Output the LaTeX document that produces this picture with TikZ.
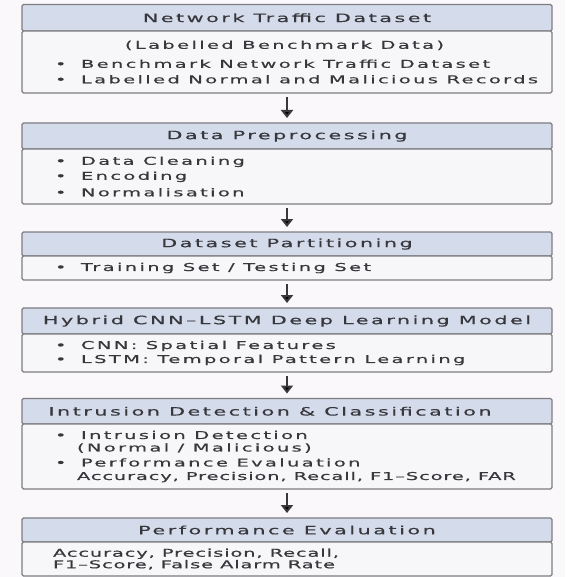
\documentclass[tikz,border=0pt]{standalone}
\usepackage{fontspec}
\setmainfont{DejaVu Sans}[FakeStretch=1.8,LetterSpace=22,FakeBold=0.5]
\usepackage{tikz}
\usetikzlibrary{positioning, arrows.meta}

\definecolor{pagebg}{RGB}{250,248,250}
\definecolor{headblue}{RGB}{212,220,235}
\definecolor{bodygray}{RGB}{247,247,249}
\definecolor{framegray}{RGB}{125,125,130}
\definecolor{inkgray}{RGB}{55,55,60}

\newcommand{\itm}[1]{\hspace*{28pt}\makebox[26pt][l]{•}#1}
\newcommand{\cont}[1]{\hspace*{50pt}#1}
\newcommand{\tightrow}[1]{{\addfontfeature{LetterSpace=8}#1}}

\tikzset{
	head/.style={draw=framegray, fill=headblue, line width=1.1pt, rounded corners=1.5pt,
		minimum width=530pt, minimum height=#1, inner sep=0pt, outer sep=0pt,
		text=inkgray, font=\fontsize{11.5}{12.5}\selectfont},
	body/.style={draw=framegray, fill=bodygray, line width=1.1pt, rounded corners=1.5pt,
		text width=520pt, inner xsep=5pt, inner ysep=0pt, minimum height=#1, outer sep=0pt,
		align=flush left, text=inkgray, font=\fontsize{10.8}{12.5}\selectfont},
	flow/.style={-{Triangle[length=8pt,width=12pt]}, line width=2pt, draw=inkgray,
		shorten <=4pt, shorten >=5pt},
}

\begin{document}
\begin{tikzpicture}
	\fill[pagebg] (0,0) rectangle (565pt,-577pt);
	\useasboundingbox (0,0) rectangle (565pt,-577pt);

	\node[head=26.5pt] (data) at (287pt,-17.75pt) {Network Traffic Dataset};
	\node[body=62pt, below=0pt of data] (databody)
		{\makebox[515pt]{(Labelled Benchmark Data)}\\[6.5pt]
		 \itm{Benchmark Network Traffic Dataset}\\[3pt]
		 \itm{Labelled Normal and Malicious Records}};

	\node[head=26pt, below=30pt of databody] (prep) {Data Preprocessing};
	\node[body=55pt, below=0pt of prep] (prepbody)
		{\itm{Data Cleaning}\\[2.5pt]
		 \itm{Encoding}\\[4pt]
		 \itm{Normalisation}};

	\node[head=24pt, below=28pt of prepbody] (part) {Dataset Partitioning};
	\node[body=24pt, below=0pt of part] (partbody)
		{\itm{Training Set / Testing Set}};

	\node[head=26pt, below=28pt of partbody] (model) {Hybrid CNN--LSTM Deep Learning Model};
	\node[body=38pt, below=0pt of model] (modelbody)
		{\itm{CNN: Spatial Features}\\[1.5pt]
		 \itm{LSTM: Temporal Pattern Learning}};

	\node[head=25.5pt, below=26.5pt of modelbody] (detect) {Intrusion Detection \& Classification\hspace*{34pt}};
	\node[body=65pt, below=0pt of detect] (detectbody)
		{\itm{Intrusion Detection}\\
		 \cont{(Normal / Malicious)}\\[2.5pt]
		 \itm{Performance Evaluation}\\[1pt]
		 \cont{\tightrow{Accuracy, Precision, Recall, F1--Score, FAR}}};

	\node[head=24pt, below=29pt of detectbody] (eval) {Performance Evaluation};
	\node[body=34pt, below=0pt of eval] (evalbody)
		{\hspace*{26pt}\tightrow{Accuracy, Precision, Recall,}\\[-1pt]
		 \hspace*{26pt}\tightrow{F1--Score, False Alarm Rate}};

	\draw[flow]
	(databody) edge (prep)
	(prepbody) edge (part)
	(partbody) edge (model)
	(modelbody) edge (detect)
	(detectbody) edge (eval);
\end{tikzpicture}
\end{document}
